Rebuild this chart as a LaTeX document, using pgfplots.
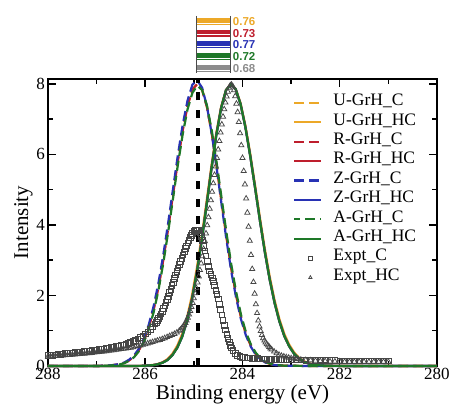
\documentclass[border=0pt]{standalone}
\usepackage{fontspec}
\setmainfont{Liberation Serif}
\newfontfamily\labelfont{Liberation Sans}
\usepackage{pgfplots}
\pgfplotsset{compat=1.18}
\usepackage{pgfplotstable}

\definecolor{cU}{RGB}{236,168,40}
\definecolor{cR}{RGB}{190,30,45}
\definecolor{cZ}{RGB}{40,50,180}
\definecolor{cA}{RGB}{30,120,40}
\definecolor{cG}{RGB}{140,140,140}
\definecolor{cM}{RGB}{70,70,70}

\pgfplotsset{markleg/.style={legend image code/.code={\draw[##1, mark size=1.9pt] plot coordinates {(16pt,0pt)};}}}

% calculated C 1s (C sites), columns: U R Z A
\pgfplotstableread{
x U R Z A
288.00 0 0 0 0
287.00 0 0 0 0
286.73 0.012 0.012 0.014 0.010
286.53 0.05 0.05 0.055 0.045
286.43 0.09 0.09 0.10 0.08
286.33 0.16 0.16 0.18 0.15
286.23 0.27 0.27 0.30 0.25
286.13 0.45 0.45 0.49 0.42
286.03 0.71 0.71 0.77 0.67
285.93 1.08 1.08 1.16 1.03
285.83 1.58 1.58 1.68 1.51
285.73 2.22 2.22 2.34 2.14
285.63 3.00 3.00 3.14 2.91
285.53 3.89 3.89 4.04 3.79
285.43 4.85 4.85 5.01 4.74
285.33 5.81 5.81 5.97 5.70
285.23 6.68 6.68 6.84 6.57
285.13 7.38 7.38 7.53 7.28
285.03 7.84 7.84 7.98 7.75
284.93 8.00 8.00 8.10 7.95
284.83 7.83 7.83 7.89 7.83
284.73 7.34 7.34 7.36 7.38
284.63 6.58 6.58 6.56 6.66
284.53 5.65 5.65 5.60 5.75
284.43 4.65 4.65 4.58 4.76
284.33 3.66 3.66 3.58 3.78
284.23 2.76 2.76 2.68 2.87
284.13 2.00 2.00 1.93 2.09
284.03 1.38 1.38 1.32 1.45
283.93 0.91 0.91 0.87 0.96
283.83 0.58 0.58 0.55 0.62
283.73 0.35 0.35 0.33 0.38
283.63 0.20 0.20 0.19 0.22
283.53 0.11 0.11 0.10 0.12
283.43 0.06 0.06 0.05 0.065
283.33 0.03 0.03 0.025 0.033
283.13 0.007 0.007 0.006 0.008
282.50 0 0 0 0
280.00 0 0 0 0
}\Ccurve

% calculated C 1s (HC sites)
\pgfplotstableread{
x U R Z A
288.00 0 0 0 0
286.24 0.001 0.001 0.001 0.001
286.04 0.006 0.005 0.005 0.005
285.84 0.03 0.025 0.024 0.024
285.74 0.06 0.05 0.05 0.05
285.64 0.11 0.10 0.095 0.095
285.54 0.20 0.18 0.17 0.17
285.44 0.35 0.32 0.31 0.31
285.34 0.58 0.53 0.52 0.52
285.24 0.91 0.85 0.83 0.83
285.14 1.38 1.30 1.28 1.28
285.04 2.00 1.90 1.88 1.88
284.94 2.77 2.66 2.64 2.64
284.84 3.67 3.56 3.54 3.54
284.74 4.66 4.56 4.54 4.54
284.64 5.67 5.59 5.57 5.57
284.54 6.60 6.55 6.53 6.53
284.44 7.35 7.32 7.31 7.31
284.34 7.83 7.82 7.82 7.82
284.24 8.00 8.00 8.00 8.00
284.14 7.86 7.85 7.85 7.85
284.04 7.46 7.43 7.43 7.43
283.94 6.82 6.77 6.77 6.77
283.84 6.02 5.95 5.95 5.95
283.74 5.12 5.04 5.04 5.04
283.64 4.20 4.11 4.11 4.11
283.54 3.32 3.23 3.23 3.23
283.44 2.54 2.45 2.45 2.45
283.34 1.87 1.79 1.79 1.79
283.24 1.33 1.26 1.26 1.26
283.14 0.91 0.85 0.85 0.85
283.04 0.61 0.56 0.56 0.56
282.94 0.39 0.35 0.35 0.35
282.84 0.24 0.21 0.21 0.21
282.74 0.14 0.12 0.12 0.12
282.64 0.08 0.07 0.07 0.07
282.44 0.025 0.02 0.02 0.02
282.24 0.006 0.005 0.005 0.005
281.50 0 0 0 0
280.00 0 0 0 0
}\HCcurve

\pgfplotstableread{
x y
288.00 0.30
287.95 0.305
287.90 0.31
287.85 0.32
287.80 0.33
287.75 0.335
287.70 0.34
287.65 0.35
287.60 0.36
287.55 0.365
287.50 0.37
287.45 0.38
287.40 0.39
287.35 0.395
287.30 0.40
287.25 0.41
287.20 0.42
287.15 0.43
287.10 0.44
287.05 0.45
287.00 0.46
286.95 0.47
286.90 0.48
286.85 0.49
286.80 0.50
286.75 0.51
286.70 0.52
286.65 0.535
286.60 0.55
286.55 0.565
286.50 0.58
286.45 0.60
286.40 0.62
286.35 0.645
286.30 0.67
286.25 0.70
286.20 0.73
286.15 0.77
286.10 0.81
286.05 0.86
286.00 0.91
285.95 0.97
285.90 1.04
285.85 1.11
285.80 1.19
285.775 1.24
285.75 1.29
285.725 1.35
285.70 1.41
285.675 1.48
285.65 1.55
285.625 1.63
285.60 1.71
285.575 1.80
285.55 1.89
285.525 1.98
285.50 2.08
285.475 2.18
285.45 2.28
285.425 2.38
285.40 2.48
285.375 2.58
285.35 2.68
285.325 2.78
285.30 2.88
285.275 2.97
285.25 3.06
285.225 3.15
285.20 3.24
285.175 3.33
285.15 3.41
285.125 3.49
285.10 3.57
285.075 3.64
285.05 3.70
285.025 3.76
285.00 3.81
284.975 3.84
284.95 3.86
284.925 3.86
284.90 3.84
284.875 3.78
284.85 3.68
284.825 3.56
284.80 3.42
284.775 3.27
284.75 3.12
284.725 2.96
284.70 2.82
284.675 2.70
284.65 2.60
284.625 2.50
284.60 2.40
284.575 2.28
284.55 2.15
284.525 2.03
284.50 1.90
284.475 1.75
284.45 1.60
284.425 1.45
284.40 1.30
284.375 1.16
284.35 1.02
284.325 0.90
284.30 0.78
284.275 0.68
284.25 0.58
284.225 0.51
284.20 0.44
284.15 0.35
284.10 0.30
284.05 0.27
284.00 0.25
283.95 0.24
283.90 0.23
283.85 0.225
283.80 0.22
283.75 0.215
283.70 0.21
283.65 0.205
283.60 0.20
283.55 0.20
283.50 0.195
283.45 0.19
283.40 0.19
283.35 0.185
283.30 0.185
283.25 0.18
283.20 0.18
283.15 0.18
283.10 0.175
283.05 0.175
283.00 0.17
282.90 0.17
282.80 0.17
282.70 0.165
282.60 0.165
282.50 0.16
282.40 0.16
282.30 0.16
282.20 0.155
282.10 0.155
282.00 0.15
281.90 0.15
281.80 0.15
281.70 0.15
281.60 0.15
281.50 0.15
281.40 0.15
281.30 0.15
281.20 0.15
281.10 0.15
281.00 0.15
}\ExptC

\pgfplotstableread{
x y
288.00 0.27
287.95 0.275
287.90 0.28
287.85 0.285
287.80 0.29
287.75 0.295
287.70 0.30
287.65 0.305
287.60 0.31
287.55 0.315
287.50 0.32
287.45 0.325
287.40 0.33
287.35 0.34
287.30 0.345
287.25 0.35
287.20 0.36
287.15 0.365
287.10 0.37
287.05 0.38
287.00 0.39
286.95 0.40
286.90 0.405
286.85 0.41
286.80 0.42
286.75 0.43
286.70 0.44
286.65 0.45
286.60 0.46
286.55 0.47
286.50 0.48
286.45 0.49
286.40 0.50
286.35 0.51
286.30 0.52
286.25 0.535
286.20 0.55
286.15 0.565
286.10 0.58
286.05 0.60
286.00 0.62
285.95 0.64
285.90 0.66
285.85 0.68
285.80 0.70
285.75 0.72
285.70 0.74
285.65 0.765
285.60 0.79
285.55 0.82
285.50 0.85
285.45 0.88
285.40 0.91
285.35 0.95
285.30 1.00
285.275 1.03
285.25 1.07
285.225 1.11
285.20 1.16
285.175 1.22
285.15 1.29
285.125 1.37
285.10 1.46
285.075 1.56
285.05 1.67
285.025 1.79
285.00 1.92
284.975 2.06
284.95 2.21
284.925 2.37
284.90 2.54
284.875 2.72
284.85 2.91
284.825 3.11
284.80 3.32
284.775 3.54
284.75 3.76
284.725 3.99
284.70 4.22
284.675 4.46
284.65 4.70
284.625 4.94
284.60 5.18
284.575 5.42
284.55 5.66
284.525 5.90
284.50 6.14
284.475 6.38
284.45 6.62
284.425 6.85
284.40 7.07
284.375 7.28
284.35 7.47
284.325 7.64
284.30 7.78
284.275 7.89
284.25 7.96
284.225 7.98
284.20 7.93
284.175 7.82
284.15 7.65
284.125 7.44
284.10 7.20
284.075 6.92
284.05 6.60
284.025 6.26
284.00 5.90
283.975 5.53
283.95 5.15
283.925 4.75
283.90 4.35
283.875 3.95
283.85 3.55
283.825 3.15
283.80 2.75
283.775 2.38
283.75 2.05
283.725 1.75
283.70 1.50
283.675 1.29
283.65 1.12
283.625 0.99
283.60 0.88
283.575 0.79
283.55 0.72
283.525 0.67
283.50 0.62
283.475 0.58
283.45 0.54
283.425 0.50
283.40 0.47
283.35 0.41
283.30 0.36
283.25 0.32
283.20 0.29
283.15 0.27
283.10 0.25
283.05 0.235
283.00 0.22
282.95 0.21
282.90 0.20
282.85 0.19
282.80 0.18
282.70 0.17
282.60 0.16
282.50 0.15
282.40 0.14
282.30 0.14
282.20 0.13
282.10 0.13
282.00 0.13
281.90 0.12
281.80 0.12
281.70 0.12
281.60 0.12
281.50 0.12
281.40 0.12
281.30 0.12
281.20 0.12
281.10 0.12
281.00 0.12
}\ExptHC

\begin{document}
\begin{tikzpicture}
\begin{axis}[
  name=ax,
  at={(0,0)}, anchor=south west,
  scale only axis, width=389pt, height=287pt,
  xmin=280, xmax=288, x dir=reverse,
  ymin=0, ymax=8.14,
  xtick={280,282,284,286,288}, minor xtick={281,283,285,287},
  ytick={0,2,4,6,8}, minor ytick={1,3,5,7},
  axis line style={line width=1.8pt},
  every tick/.style={black, line width=1.5pt},
  major tick length=8pt, minor tick length=5pt,
  tick label style={font=\fontsize{17}{17}\selectfont},
  /pgf/number format/assume math mode=true,
  xticklabel style={inner sep=0pt, yshift=-1.5pt},
  yticklabel style={inner sep=0pt, xshift=-3pt},
  xlabel={Binding energy (eV)}, ylabel={Intensity},
  label style={font=\fontsize{21}{21}\selectfont},
  xlabel style={at={(axis description cs:0.5,-0.066)}, anchor=north, inner sep=0pt},
  ylabel style={at={(axis description cs:-0.0386,0.5)}, anchor=south, inner sep=0pt},
  clip=false,
  legend style={at={(axis description cs:0.63,0.951)}, anchor=north west,
    draw=none, fill=none, inner sep=0pt, row sep=0pt,
    font=\fontsize{17.5}{19}\selectfont,
    nodes={inner sep=0pt, text height=12.5pt, text depth=6.9pt},
    /tikz/every odd column/.append style={column sep=11pt}},
  legend cell align=left,
  legend image code/.code={\draw[#1] (0pt,0pt) -- (27pt,0pt);},
]
\addplot[cU, line width=2.2pt, dash pattern=on 10pt off 5pt] table[x=x,y=U] {\Ccurve};
\addlegendentry{U-GrH\_C}
\addplot[cU, line width=2.2pt] table[x=x,y=U] {\HCcurve};
\addlegendentry{U-GrH\_HC}
\addplot[cR, line width=2.2pt, dash pattern=on 10pt off 5pt] table[x=x,y=R] {\Ccurve};
\addlegendentry{R-GrH\_C}
\addplot[cR, line width=2.2pt] table[x=x,y=R] {\HCcurve};
\addlegendentry{R-GrH\_HC}
\addplot[cZ, line width=2.2pt, dash pattern=on 10pt off 5pt] table[x=x,y=Z] {\Ccurve};
\addlegendentry{Z-GrH\_C}
\addplot[cZ, line width=2.2pt] table[x=x,y=Z] {\HCcurve};
\addlegendentry{Z-GrH\_HC}
\addplot[cA, line width=2.2pt, dash pattern=on 10pt off 5pt, dash phase=4pt] table[x=x,y=A] {\Ccurve};
\addlegendentry{A-GrH\_C}
\addplot[cA, line width=2.2pt] table[x=x,y=A] {\HCcurve};
\addlegendentry{A-GrH\_HC}
\addplot[cM, only marks, mark=square, mark size=2.8pt, mark options={line width=0.75pt, solid}, markleg] table[x=x,y=y] {\ExptC};
\addlegendentry{Expt\_C}
\addplot[cM, only marks, mark=triangle, mark size=3pt, mark options={line width=0.75pt, solid}, markleg] table[x=x,y=y] {\ExptHC};
\addlegendentry{Expt\_HC}
% reference line at the C peak
\addplot[black, line width=3.6pt, dash pattern=on 8pt off 9.7pt, forget plot] coordinates {(284.92,0) (284.92,8.14)};
% shift bars above the plot
\addplot[cU, line width=7pt, forget plot] coordinates {(284.95,9.771) (284.24,9.771)};
\addplot[cR, line width=7pt, forget plot] coordinates {(284.95,9.439) (284.24,9.439)};
\addplot[cZ, line width=7pt, forget plot] coordinates {(284.95,9.105) (284.24,9.105)};
\addplot[cA, line width=7pt, forget plot] coordinates {(284.95,8.774) (284.24,8.774)};
\addplot[cG, line width=7pt, forget plot] coordinates {(284.95,8.440) (284.24,8.440)};
\addplot[white, line width=1pt, forget plot] coordinates {(284.95,9.72) (284.24,9.72)};
\addplot[white, line width=1pt, forget plot] coordinates {(284.95,9.388) (284.24,9.388)};
\addplot[white, line width=1pt, forget plot] coordinates {(284.95,9.054) (284.24,9.054)};
\addplot[white, line width=1pt, forget plot] coordinates {(284.95,8.723) (284.24,8.723)};
\addplot[white, line width=1pt, forget plot] coordinates {(284.95,8.389) (284.24,8.389)};
\addplot[black!70, line width=1.3pt, forget plot] coordinates {(284.95,9.93) (284.95,8.30)};
\addplot[black!70, line width=1.3pt, forget plot] coordinates {(284.24,9.93) (284.24,8.30)};
\node[anchor=west, inner sep=1pt, text=cU, font=\labelfont\bfseries\fontsize{11.5}{11.5}\selectfont] at (axis cs:284.22,9.771) {0.76};
\node[anchor=west, inner sep=1pt, text=cR, font=\labelfont\bfseries\fontsize{11.5}{11.5}\selectfont] at (axis cs:284.22,9.439) {0.73};
\node[anchor=west, inner sep=1pt, text=cZ, font=\labelfont\bfseries\fontsize{11.5}{11.5}\selectfont] at (axis cs:284.22,9.105) {0.77};
\node[anchor=west, inner sep=1pt, text=cA, font=\labelfont\bfseries\fontsize{11.5}{11.5}\selectfont] at (axis cs:284.22,8.774) {0.72};
\node[anchor=west, inner sep=1pt, text=cG, font=\labelfont\bfseries\fontsize{11.5}{11.5}\selectfont] at (axis cs:284.22,8.440) {0.68};
\end{axis}
\pgfresetboundingbox
\path ([shift={(-48pt,-44pt)}]ax.south west) rectangle ([shift={(17pt,79pt)}]ax.north east);
\end{tikzpicture}
\end{document}
